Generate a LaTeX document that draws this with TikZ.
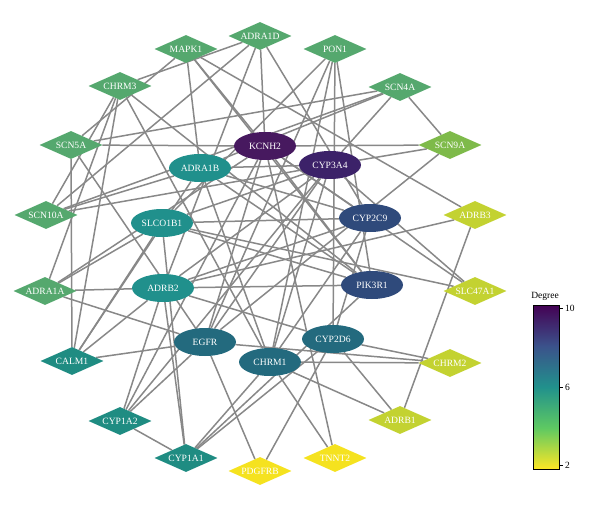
\documentclass[tikz,border=0pt]{standalone}
\usepackage{fontspec}
\setmainfont{Liberation Serif}
\usetikzlibrary{shapes.geometric,backgrounds}
\definecolor{cpa}{HTML}{47195F}
\definecolor{cpb}{HTML}{3C2269}
\definecolor{cbl}{HTML}{2F4A7B}
\definecolor{cdt}{HTML}{236A7E}
\definecolor{ctl}{HTML}{20908C}
\definecolor{ctd}{HTML}{1F8C82}
\definecolor{cgr}{HTML}{55A86E}
\definecolor{clg}{HTML}{7EBA4A}
\definecolor{cyg}{HTML}{C3D231}
\definecolor{cye}{HTML}{F5E21F}
\definecolor{edgegray}{HTML}{888888}
\definecolor{vy}{HTML}{FDE725}
\definecolor{vg}{HTML}{5EC962}
\definecolor{vt}{HTML}{21918C}
\definecolor{vb}{HTML}{3B528B}
\definecolor{vp}{HTML}{440154}
\tikzset{
  lbl/.style={text=white,font=\fontsize{9.6}{10}\selectfont,inner sep=0pt},
  ell/.style={lbl,ellipse,minimum width=62pt,minimum height=28pt},
  dia/.style={lbl,diamond,aspect=2.2,minimum width=63pt,minimum height=28pt},
  link/.style={draw=edgegray,line width=1.5pt},
  tick/.style={font=\fontsize{9.5}{10}\selectfont,anchor=west,inner sep=0pt}
}
\begin{document}
\begin{tikzpicture}[x=1pt,y=-1pt]
\useasboundingbox (0,0) rectangle (600,508);
% nodes
\node[dia,fill=cgr] (ADRA1D) at (260,36) {ADRA1D};
\node[dia,fill=cgr] (MAPK1) at (186,49) {MAPK1};
\node[dia,fill=cgr] (PON1) at (335,49) {PON1};
\node[dia,fill=cgr] (CHRM3) at (120,86) {CHRM3};
\node[dia,fill=cgr] (SCN4A) at (400,87) {SCN4A};
\node[dia,fill=cgr] (SCN5A) at (71,145) {SCN5A};
\node[ell,fill=cpa] (KCNH2) at (265,146) {KCNH2};
\node[dia,fill=clg] (SCN9A) at (450,145) {SCN9A};
\node[ell,fill=ctl] (ADRA1B) at (200,168) {ADRA1B};
\node[ell,fill=cpb] (CYP3A4) at (330,165) {CYP3A4};
\node[dia,fill=cgr] (SCN10A) at (46,215) {SCN10A};
\node[ell,fill=ctl] (SLCO1B1) at (162,223) {SLCO1B1};
\node[ell,fill=cbl] (CYP2C9) at (370,218) {CYP2C9};
\node[dia,fill=cyg] (ADRB3) at (475,215) {ADRB3};
\node[dia,fill=cgr] (ADRA1A) at (45,291) {ADRA1A};
\node[ell,fill=ctl] (ADRB2) at (163,288) {ADRB2};
\node[ell,fill=cbl] (PIK3R1) at (372,285) {PIK3R1};
\node[dia,fill=cyg] (SLC47A1) at (475,291) {SLC47A1};
\node[ell,fill=cdt] (EGFR) at (205,342) {EGFR};
\node[ell,fill=cdt] (CYP2D6) at (333,339) {CYP2D6};
\node[ell,fill=cdt] (CHRM1) at (270,362) {CHRM1};
\node[dia,fill=ctd] (CALM1) at (72,361) {CALM1};
\node[dia,fill=cyg] (CHRM2) at (450,363) {CHRM2};
\node[dia,fill=ctd] (CYP1A2) at (120,421) {CYP1A2};
\node[dia,fill=cyg] (ADRB1) at (400,420) {ADRB1};
\node[dia,fill=ctd] (CYP1A1) at (186,458) {CYP1A1};
\node[dia,fill=cye] (PDGFRB) at (260,471) {PDGFRB};
\node[dia,fill=cye] (TNNT2) at (335,458) {TNNT2};
% edges
\begin{pgfonlayer}{background}
\foreach \a/\b in {CHRM3/ADRA1D, CHRM3/ADRA1A, CHRM3/SCN10A, CHRM3/CALM1, CHRM3/PIK3R1, CHRM3/CHRM1,
 MAPK1/ADRA1B, MAPK1/ADRB3, MAPK1/KCNH2, MAPK1/SCN5A, MAPK1/PIK3R1,
 ADRA1D/KCNH2, ADRA1D/SCN10A, ADRA1D/CYP2C9, ADRA1D/ADRB2,
 PON1/CYP2D6, PON1/PIK3R1, PON1/CHRM1, PON1/EGFR, PON1/SLCO1B1,
 SCN4A/SCN5A, SCN4A/SCN10A, SCN4A/SCN9A, SCN4A/CYP3A4, SCN4A/ADRA1B,
 SCN5A/KCNH2, SCN5A/CALM1, SCN5A/EGFR,
 KCNH2/SCN9A, CYP3A4/SCN9A, SCN9A/EGFR,
 SCN10A/ADRA1B, SCN10A/CYP3A4,
 ADRA1A/ADRB2, ADRA1A/EGFR, ADRA1A/KCNH2, ADRA1A/SLCO1B1,
 CALM1/EGFR, CALM1/ADRB2, CALM1/SLCO1B1, CALM1/ADRA1B,
 CYP1A2/CYP1A1, CYP1A2/ADRB2, CYP1A2/KCNH2, CYP1A2/CYP3A4, CYP1A2/EGFR,
 CYP1A1/ADRB2, CYP1A1/SLCO1B1, CYP1A1/CHRM1, CYP1A1/CYP2D6, CYP1A1/PIK3R1,
 PDGFRB/EGFR, PDGFRB/CYP2D6,
 TNNT2/CHRM1, TNNT2/KCNH2,
 ADRB1/CHRM1, ADRB1/CYP2D6, ADRB1/ADRB3,
 CHRM2/CHRM1, CHRM2/CYP2D6, CHRM2/EGFR,
 SLC47A1/SLCO1B1, SLC47A1/KCNH2, SLC47A1/CYP3A4,
 ADRB3/ADRB2,
 KCNH2/CYP2C9, KCNH2/PIK3R1, KCNH2/EGFR,
 CYP3A4/ADRB2, CYP3A4/CHRM1, CYP3A4/EGFR, CYP3A4/ADRA1B, CYP3A4/SLCO1B1,
 CYP2C9/SLCO1B1, CYP2C9/ADRB2, CYP2C9/CYP2D6, CYP2C9/CHRM1, CYP2C9/ADRA1B,
 PIK3R1/ADRB2, PIK3R1/SLCO1B1, PIK3R1/ADRA1B,
 CYP2D6/ADRB2, ADRA1B/CHRM1}{\draw[link] (\a) -- (\b);}
\end{pgfonlayer}
% colour bar
\node[font=\fontsize{9.5}{10}\selectfont,inner sep=0pt] (degtitle) at (545,296) {Degree};
\shade[top color=vp,bottom color=vb] (533,305) rectangle (559,346);
\shade[top color=vb,bottom color=vt] (533,346) rectangle (559,387);
\shade[top color=vt,bottom color=vg] (533,387) rectangle (559,428);
\shade[top color=vg,bottom color=vy] (533,428) rectangle (559,469);
\draw[line width=0.9pt] (533,305) rectangle (559,469);
\draw[line width=0.8pt] (559,308) -- (563,308) (559,387) -- (563,387) (559,465) -- (563,465);
\node[tick] (t10) at (565,308) {10};
\node[tick] (t6) at (565,387) {6};
\node[tick] (t2) at (565,465) {2};
\end{tikzpicture}
\end{document}
